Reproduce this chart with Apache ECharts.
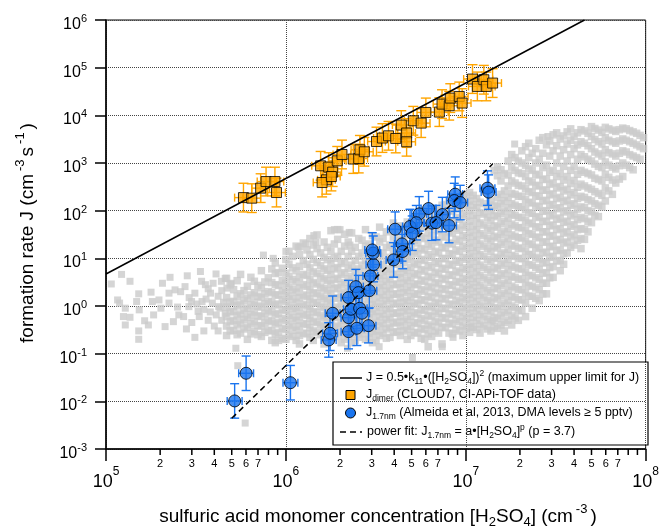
<!DOCTYPE html>
<html><head><meta charset="utf-8">
<script src="https://cdn.jsdelivr.net/npm/echarts@6/dist/echarts.min.js"></script>
<style>html,body{margin:0;padding:0;background:#fff}#c{width:662px;height:529px}</style>
</head><body><div id="c"></div>
<script>
const FONT = '"Liberation Sans", Arial, Helvetica, sans-serif';

// ---- J_dimer (CLOUD7, CI-APi-TOF) ----
const dimerX = [5.81e5,6.46e5,7.24e5,7.76e5,8.69e5,8.87e5,1.56e6,1.68e6,1.59e6,1.73e6,1.82e6,1.93e6,2.05e6,2.37e6,2.54e6,2.58e6,2.73e6,3.19e6,3.44e6,3.72e6,4.08e6,4.38e6,4.69e6,4.69e6,5.11e6,5.65e6,6.00e6,7.13e6,7.38e6,8.09e6,8.20e6,9.20e6,9.55e6,1.09e7,1.16e7,1.26e7,1.30e7,1.41e7,1.79e6];
const dimerY = [188,183,297,408,408,240,873,444,389,821,644,1110,1510,1210,1240,1890,1720,2820,3340,3720,3270,6250,4250,2790,7690,6870,11500,11700,17200,15900,23000,24900,18100,57700,40400,55800,40400,47500,520];
const dimerErrX = 1.12, dimerErrY = 2.0;

// ---- J_1.7nm (Almeida et al 2013) ----
const j17X = [5.19e5,6.01e5,1.06e6,1.73e6,1.76e6,1.82e6,2.23e6,2.23e6,2.30e6,2.23e6,2.48e6,2.57e6,2.65e6,2.88e6,2.45e6,2.53e6,2.91e6,2.95e6,3.07e6,3.06e6,3.02e6,3.97e6,4.42e6,4.46e6,4.05e6,4.90e6,5.04e6,5.51e6,6.21e6,6.48e6,7.41e6,8.07e6,8.74e6,8.63e6,9.31e6,1.32e7,1.34e7,6.83e6,5.31e6];
const j17Y = [0.0102,0.0388,0.0246,0.194,0.268,0.705,0.290,0.570,0.855,1.50,0.341,0.897,0.705,0.387,2.55,1.91,2.10,4.27,7.39,12.8,15.0,9.27,20.1,13.9,40.9,46.5,33.7,85.7,111,54.7,82.8,48.8,222,163,148,297,245,56.2,55.9];
const j17ErrX = 1.1, j17ErrY = 2.3;

// ---- lines ----
const upperLimitLine = [[1e5, 4.7], [4.57e7, 1e6]];
const powerFitLine = [[5.0e5, 4.4e-3], [1.41e7, 950]];

// ---- grey background data: sparse points ----
const greySparse = [[1.07e5,2.9],[1.22e5,4.6],[1.36e5,3.3],[1.16e5,1.34],[1.19e5,1.15],[1.28e5,0.9],[1.25e5,0.6],[1.28e5,0.4],[1.36e5,0.58],[1.48e5,1.24],[1.53e5,0.83],[1.52e5,1.8],[1.52e5,0.3],[1.52e5,0.2],[1.64e5,0.49],[1.72e5,0.4],[1.78e5,1.95],[1.81e5,1.24],[1.84e5,0.65],[1.97e5,1.34],[2.06e5,3.0],[2.02e5,0.9],[2.13e5,0.37],[2.24e5,1.86],[2.27e5,4.0],[2.24e5,1.15],[2.42e5,2.18],[2.37e5,0.47],[2.54e5,0.65],[2.6e5,2.0],[2.75e5,2.55],[2.83e5,4.3],[2.89e5,0.97],[2.99e5,1.24],[3.12e5,1.86],[3.12e5,0.22],[3.25e5,0.77],[3.35e5,5.3],[3.4e5,3.3],[3.42e5,1.24],[3.57e5,2.8],[3.81e5,1.86],[3.94e5,3.0],[4.09e5,4.7],[4.23e5,0.97],[4.38e5,3.3],[4.6e5,3.8],[4.7e5,2.37],[4.97e5,3.0],[5.27e5,0.13],[5.4e5,0.056],[5.94e5,0.0035],
[2.5e5,0.95],[2.7e5,0.6],[2.9e5,1.5],[3.0e5,0.45],[3.2e5,1.1],[3.3e5,0.6],[3.5e5,0.85],[3.6e5,1.4],[3.7e5,0.5],[3.8e5,0.75],[3.9e5,1.15],[4.0e5,0.38],[4.1e5,0.65],[4.2e5,1.6],[4.3e5,0.9],[4.4e5,0.5],[4.5e5,1.2],[4.6e5,0.7],[4.4e5,2.1],[3.7e5,2.3],[4.2e5,0.3],[3.5e5,0.3],[2.8e5,0.33],
[1.17e6,17],[1.29e6,20],[1.43e6,30],[1.47e6,22],[1.86e6,40],[2.0e6,40],[2.25e6,35],[2.27e6,19],[7.5e5,11.7],[8.5e5,10],[1.0e6,14],[1.2e6,17.5],
[5.05e6,0.083],[7.4e6,0.14],[8.5e6,0.22],[1.07e7,0.36],[1.42e7,0.5],[2.2e6,0.13],[3.3e6,0.14],[1.87e7,2500],[2.86e7,3600]];

// ---- grey background data: dense band, column x with its y values (set A) ----
const greyColumns = [
 [4.68e5,[3.8,1.5,0.95,0.6,0.38,0.24]],
 [5.12e5,[2.2,1.25,0.78,0.5,0.31]],
 [5.6e5,[4.6,1.8,1.1,0.68,0.44,0.27]],
 [6.11e5,[2.6,1.45,0.9,0.58,0.36,0.2]],
 [6.68e5,[3.3,1.9,1.2,0.75,0.47,0.29]],
 [7.31e5,[5.5,2.4,1.5,0.95,0.6,0.38,0.23]],
 [7.98e5,[3.9,2.0,1.25,0.8,0.5,0.31]],
 [8.73e5,[8,4.8,2.8,1.7,1.05,0.66,0.42,0.26,0.17]],
 [9.55e5,[6.2,3.4,2.1,1.35,0.85,0.54,0.34,0.21]],
 [1.04e6,[14,7.5,4.2,2.5,1.6,1.0,0.64,0.4,0.25]],
 [1.14e6,[18,5.5,3.2,1.95,1.2,0.78,0.5,0.31,0.19]],
 [1.25e6,[21,9,4.6,2.8,1.7,1.08,0.68,0.43,0.27]],
 [1.36e6,[26,12,6.3,3.6,2.2,1.4,0.88,0.56,0.35,0.22]],
 [1.49e6,[31,16,8.2,4.8,2.9,1.8,1.15,0.72,0.45,0.28]],
 [1.63e6,[22,10.5,6.0,3.7,2.3,1.45,0.92,0.58,0.37,0.23,0.16]],
 [1.78e6,[38,14,7.8,4.6,2.9,1.8,1.15,0.73,0.46,0.29,0.19]],
 [1.94e6,[40,25,11,6.4,3.8,2.4,1.5,0.95,0.6,0.38,0.24]],
 [2.12e6,[32,18,8.5,5.0,3.1,1.95,1.25,0.78,0.5,0.32,0.2]],
 [2.32e6,[34,14,7.2,4.2,2.6,1.65,1.05,0.66,0.42,0.26,0.17]],
 [2.54e6,[26,11,6.0,3.6,2.25,1.4,0.88,0.56,0.35,0.22]],
 [2.77e6,[40,18,9,5.2,3.2,2.0,1.25,0.78,0.5,0.31,0.2]],
 [3.03e6,[30,14,7.5,4.4,2.7,1.7,1.08,0.68,0.43,0.27,0.17]],
 [3.32e6,[45,22,11,6.3,3.8,2.4,1.5,0.95,0.6,0.38,0.24]],
 [3.62e6,[36,17,9,5.3,3.3,2.05,1.3,0.82,0.52,0.33,0.21]],
 [3.96e6,[55,28,14,7.6,4.6,2.8,1.75,1.1,0.7,0.44,0.28]],
 [4.33e6,[48,30,18,10.5,6.2,3.9,2.4,1.5,0.95,0.6,0.38,0.24]],
 [4.73e6,[58,32,17,9.5,5.6,3.4,2.1,1.3,0.82,0.52,0.33,0.2]],
 [5.18e6,[62,40,24,14,8,4.8,2.9,1.8,1.15,0.72,0.45,0.28]],
 [5.65e6,[78,48,28,16,9.5,5.8,3.5,2.2,1.35,0.85,0.54,0.34,0.21]],
 [6.18e6,[95,58,34,20,12,7,4.2,2.6,1.6,1.0,0.64,0.4,0.26,0.14]],
 [6.76e6,[105,68,40,24,14,8.5,5.1,3.1,1.95,1.2,0.78,0.48,0.3]],
 [7.38e6,[130,80,50,29,17,10,6.2,3.8,2.3,1.45,0.9,0.57,0.36,0.16]],
 [8.07e6,[165,100,60,36,21,12.5,7.5,4.5,2.8,1.75,1.1,0.7,0.44,0.27]],
 [8.82e6,[190,120,72,43,25,15,9,5.4,3.3,2.05,1.3,0.82,0.52,0.32]],
 [9.64e6,[215,140,85,50,30,18,10.5,6.3,3.8,2.4,1.5,0.95,0.6,0.38,0.24]],
 [1.05e7,[240,160,100,60,35,21,12.5,7.5,4.5,2.8,1.75,1.1,0.7,0.44,0.28]],
 [1.15e7,[180,115,68,40,24,14.5,8.7,5.2,3.2,2.0,1.25,0.8,0.5,0.32]],
 [1.26e7,[140,85,50,30,18,11,6.5,3.9,2.4,1.5,0.95,0.6,0.38]],
 [1.38e7,[160,100,62,38,23,14,8.5,5.1,3.1,1.9,1.2,0.75,0.47,0.3]],
 [1.50e7,[830,540,190,120,75,45,27,16.5,10,6,3.7,2.3,1.4,0.88,0.55,0.34]],
 [1.64e7,[600,260,160,98,60,36,22,13,8,4.8,3,1.85,1.15,0.72,0.45,0.3]],
 [1.80e7,[1500,820,420,230,140,85,52,31,19,11.5,7,4.2,2.6,1.6,1.0,0.62,0.4]],
 [1.96e7,[1100,620,340,200,120,72,44,27,16,9.8,6,3.6,2.2,1.35,0.8,0.5]],
 [2.15e7,[2200,900,520,290,170,105,62,38,23,14,8.4,5.1,3.1,1.9,1.15,0.6]],
 [2.34e7,[1600,700,400,240,145,88,53,32,19.5,12,7.2,4.3,2.6,1.6,0.9]],
 [2.56e7,[3000,1200,560,330,200,120,72,44,27,16,9.7,5.9,3.6,2.2,1.3]],
 [2.81e7,[2400,900,460,270,165,100,60,36,22,13.5,8.2,5,3.0,1.8]],
 [3.06e7,[3900,1800,700,380,225,135,82,50,30,18,11,6.7,4]],
 [3.35e7,[3200,1400,600,320,190,115,70,42,25,15,9,5.5]],
 [3.66e7,[4500,2500,1100,520,280,165,100,60,36,22,13]],
 [4.0e7,[3600,2000,850,430,240,140,85,51,31,19]],
 [4.37e7,[5000,2800,1500,700,360,200,120,72,42,26,16]],
 [4.78e7,[4200,2300,1200,600,300,170,100,60,36]],
 [5.22e7,[5300,3100,1700,950,480,250,140,80]],
 [5.71e7,[4400,2500,1400,800,420,210,120]],
 [6.24e7,[5200,3000,1650,900,500,260]],
 [6.82e7,[4600,2600,1400,750,380]],
 [7.46e7,[5400,3200,1800,1000,520]],
 [8.15e7,[4800,2800,1500,800]],
 [8.91e7,[4200,2400,1300]],
 [9.73e7,[3400,2000]]
];

// ---- grey background data: dense band, second set of columns (set B) ----
const greyColumnsB = [
 [4.9e5,[2.8,1.2,0.75,0.47,0.3]],
 [5.36e5,[3.4,1.6,1.0,0.62,0.4,0.25]],
 [5.85e5,[2.1,1.3,0.82,0.52,0.33]],
 [6.39e5,[4.0,1.7,1.05,0.66,0.42,0.26]],
 [6.99e5,[2.7,1.6,1.0,0.62,0.39,0.25]],
 [7.64e5,[3.2,1.8,1.12,0.7,0.44,0.28]],
 [8.35e5,[6,3.1,1.9,1.2,0.75,0.47,0.3,0.19]],
 [9.1e5,[5.0,2.7,1.7,1.1,0.7,0.45,0.28,0.19]],
 [1.0e6,[9.5,4.9,3.0,1.9,1.25,0.8,0.5,0.32,0.2]],
 [1.09e6,[11,6.3,3.6,2.2,1.4,0.9,0.56,0.36,0.23]],
 [1.19e6,[12,6.8,4.0,2.4,1.5,0.95,0.6,0.38,0.24,0.16]],
 [1.31e6,[15,7.5,4.4,2.6,1.6,1.0,0.64,0.41,0.26]],
 [1.42e6,[19,9.5,5.2,3.1,1.9,1.2,0.76,0.48,0.3,0.19]],
 [1.56e6,[13,7.0,4.1,2.5,1.6,1.0,0.63,0.4,0.25]],
 [1.70e6,[17,9.4,5.6,3.4,2.1,1.3,0.85,0.54,0.34,0.21]],
 [1.86e6,[20,10,6.0,3.6,2.3,1.45,0.9,0.57,0.36,0.23]],
 [2.03e6,[14,7.8,4.6,2.8,1.75,1.1,0.7,0.44,0.28,0.17]],
 [2.22e6,[22,11,6.2,3.7,2.3,1.45,0.92,0.58,0.37,0.23]],
 [2.43e6,[17,9,5.3,3.2,2.0,1.25,0.8,0.5,0.31,0.19]],
 [2.65e6,[24,13,7.2,4.3,2.7,1.7,1.05,0.66,0.42,0.26]],
 [2.90e6,[20,10.5,6.0,3.6,2.25,1.4,0.88,0.56,0.35,0.22]],
 [3.17e6,[28,15,8.5,5.0,3.1,1.95,1.2,0.77,0.48,0.3,0.19]],
 [3.47e6,[26,13,7.3,4.4,2.7,1.7,1.08,0.68,0.43,0.27]],
 [3.79e6,[38,19,10.5,6.0,3.7,2.3,1.45,0.9,0.57,0.36,0.22]],
 [4.14e6,[42,23,13,7.6,4.6,2.9,1.8,1.15,0.72,0.46,0.29]],
 [4.53e6,[45,25,14,8.2,4.9,3.0,1.9,1.2,0.75,0.47,0.3]],
 [4.95e6,[50,31,19,11,6.5,4.0,2.5,1.55,0.98,0.61,0.38,0.24]],
 [5.41e6,[62,37,21,12.5,7.4,4.5,2.8,1.75,1.1,0.68,0.43,0.27]],
 [5.91e6,[75,45,26,15,9,5.4,3.3,2.05,1.3,0.8,0.5,0.32,0.2]],
 [6.46e6,[88,52,30,18,10.5,6.4,3.9,2.4,1.5,0.95,0.6,0.37,0.23]],
 [7.06e6,[110,65,38,22,13,7.8,4.7,2.9,1.8,1.12,0.7,0.44,0.27]],
 [7.72e6,[135,82,48,28,16.5,9.8,5.9,3.6,2.2,1.4,0.88,0.55,0.35]],
 [8.43e6,[160,98,58,34,20,12,7.2,4.4,2.7,1.7,1.05,0.66,0.42,0.26]],
 [9.22e6,[175,110,66,39,23,14,8.3,5.0,3.1,1.9,1.2,0.75,0.47,0.3]],
 [1.01e7,[200,125,76,45,27,16,9.6,5.8,3.5,2.2,1.38,0.86,0.54,0.34]],
 [1.10e7,[210,130,80,48,29,17,10.5,6.3,3.8,2.4,1.5,0.92,0.58,0.36]],
 [1.20e7,[150,92,55,33,20,12,7.2,4.4,2.7,1.7,1.05,0.66,0.42,0.27]],
 [1.32e7,[120,72,43,26,16,9.5,5.8,3.5,2.1,1.3,0.82,0.52,0.33]],
 [1.44e7,[700,130,80,48,29,17.5,10.5,6.4,3.9,2.4,1.5,0.93,0.58,0.37]],
 [1.57e7,[720,420,220,140,88,53,32,19.5,12,7.2,4.4,2.7,1.65,1.0,0.63,0.4]],
 [1.72e7,[1100,560,330,190,115,70,42,26,15.5,9.5,5.8,3.5,2.1,1.3,0.8,0.5]],
 [1.88e7,[1300,700,380,220,130,80,48,29,18,11,6.5,4.0,2.4,1.5,0.92,0.56]],
 [2.05e7,[1800,1000,600,330,200,120,72,44,27,16.5,10,6,3.7,2.2,1.35,0.8]],
 [2.24e7,[2600,1300,750,420,250,150,90,55,33,20,12,7.3,4.4,2.7,1.6]],
 [2.45e7,[2000,1000,580,340,205,125,75,46,28,17,10.5,6.4,3.9,2.4,1.45]],
 [2.68e7,[3400,1600,800,450,270,160,97,59,36,22,13,8,4.9,3.0,1.8]],
 [2.93e7,[2900,1400,640,360,215,130,78,48,29,17.5,10.5,6.4,3.9]],
 [3.20e7,[4300,2300,1000,520,300,180,110,66,40,24,14.5,8.8]],
 [3.50e7,[3700,1900,850,440,260,155,94,57,34,21,12.5,7.5]],
 [3.83e7,[5200,3000,1500,700,370,215,130,78,47,28,17]],
 [4.18e7,[4300,2400,1200,580,310,180,108,65,40,24]],
 [4.57e7,[4700,2600,1350,640,330,190,115,68,41,25]],
 [5.00e7,[5800,3600,2000,1100,560,280,160,95,56]],
 [5.46e7,[4900,2800,1550,850,450,230,130,75]],
 [5.97e7,[5600,3400,1900,1050,580,300,160]],
 [6.53e7,[4900,2800,1550,820,440,220]],
 [7.14e7,[5000,2900,1600,880,460]],
 [7.80e7,[5200,3000,1700,900]],
 [8.52e7,[4500,2600,1400,720]],
 [9.31e7,[3800,2200,1200]]
];

// ---- axis tick labels ----
const xDecades = [1e5, 1e6, 1e7];
const xMinorMultipliers = [2,3,4,5,6,7,8,9];
const xMinorLabels = ['2','3','4','5','6','7','',''];

// ---------- build ----------
const greyDense = [];
greyColumns.concat(greyColumnsB).forEach(function(c){ c[1].forEach(function(y){ greyDense.push([c[0], y]); }); });

function errData(xs, ys, fx, fy){
  return xs.map(function(x,i){ return [x, ys[i], x/fx, x*fx, ys[i]/fy, ys[i]*fy]; });
}
function errRender(color, capV, capH){
  return function(params, api){
    const x = api.value(0), y = api.value(1);
    const c = api.coord([x,y]);
    const yl = api.coord([x, api.value(4)])[1], yh = api.coord([x, api.value(5)])[1];
    const xl = api.coord([api.value(2), y])[0], xh = api.coord([api.value(3), y])[0];
    const st = {stroke: color, lineWidth: 1.4, fill: null};
    return {type:'group', children:[
      {type:'line', shape:{x1:c[0],y1:yl,x2:c[0],y2:yh}, style:st},
      {type:'line', shape:{x1:c[0]-capV,y1:yl,x2:c[0]+capV,y2:yl}, style:st},
      {type:'line', shape:{x1:c[0]-capV,y1:yh,x2:c[0]+capV,y2:yh}, style:st},
      {type:'line', shape:{x1:xl,y1:c[1],x2:xh,y2:c[1]}, style:st},
      {type:'line', shape:{x1:xl,y1:c[1]-capH,x2:xl,y2:c[1]+capH}, style:st},
      {type:'line', shape:{x1:xh,y1:c[1]-capH,x2:xh,y2:c[1]+capH}, style:st}
    ]};
  };
}

const minorData = [];
const minorLabelIdx = [];
xDecades.forEach(function(d){ xMinorMultipliers.forEach(function(m, k){ minorData.push([d*m, 1e-3]); minorLabelIdx.push(k); }); });

const ORANGE = '#ffa500', BLUE = '#1a74ee', GREY = '#cbcbcb';

const yLabelRich = {
  b: {fontSize: 16, fontFamily: FONT, color:'#000', lineHeight: 16, padding:[9,0,0,0]},
  s: {fontSize: 11, fontFamily: FONT, color:'#000', lineHeight: 11, padding:[0,0,2,0]}
};
const xLabelRich = {
  b: {fontSize: 18, fontFamily: FONT, color:'#000', lineHeight: 18, padding:[10,0,0,0]},
  s: {fontSize: 12, fontFamily: FONT, color:'#000', lineHeight: 12, padding:[0,0,10,0]}
};
function expFmt(v){ return '{b|10}{s|' + Math.round(Math.log10(v)) + '}'; }

const legRich = {
  t: {fontSize: 12.5, fontFamily: FONT, color:'#000', lineHeight: 14},
  sub: {fontSize: 8.5, fontFamily: FONT, color:'#000', lineHeight: 9, padding:[7,0,0,0]},
  sup: {fontSize: 8.5, fontFamily: FONT, color:'#000', lineHeight: 9, padding:[0,0,9,0]}
};
const titleRich = {
  t: {fontSize: 19, fontFamily: FONT, color:'#000', lineHeight: 22},
  sub: {fontSize: 13, fontFamily: FONT, color:'#000', lineHeight: 13, padding:[10,0,0,0]},
  sup: {fontSize: 13, fontFamily: FONT, color:'#000', lineHeight: 13, padding:[0,3,16,3]}
};

const chart = echarts.init(document.getElementById('c'), null, {renderer:'canvas'});
chart.setOption({
  animation: false,
  backgroundColor: '#fff',
  grid: {left: 106, top: 20, width: 544, height: 429, show: true, borderColor: '#000', borderWidth: 1, backgroundColor: 'transparent'},
  xAxis: {
    type: 'log', logBase: 10, min: 1e5, max: 1e8, interval: 1,
    axisLine: {show: true, lineStyle: {color:'#000', width: 1.5}},
    axisTick: {show: true, inside: false, length: 12, lineStyle: {color:'#000', width: 1.5}},
    axisLabel: {formatter: expFmt, rich: xLabelRich, margin: 19, showMinLabel: true, showMaxLabel: true},
    splitLine: {show: true, lineStyle: {color:'#444', type:'dotted', width: 1}},
    minorTick: {show: false}
  },
  yAxis: {
    type: 'log', logBase: 10, min: 1e-3, max: 1e6, interval: 1,
    axisLine: {show: true, lineStyle: {color:'#000', width: 1.5}},
    axisTick: {show: true, inside: false, length: 11, lineStyle: {color:'#000', width: 1.5}},
    axisLabel: {formatter: expFmt, rich: yLabelRich, margin: 19, showMinLabel: true, showMaxLabel: true},
    splitLine: {show: true, lineStyle: {color:'#444', type:'dotted', width: 1}}
  },
  series: [
    {type:'scatter', data: greySparse, symbol:'rect', symbolSize: 7, itemStyle:{color: GREY}, silent: true, z: 1},
    {type:'scatter', data: greyDense, symbol:'rect', symbolSize: 7.5, itemStyle:{color: GREY}, silent: true, z: 1},
    {type:'custom', data: errData(dimerX, dimerY, dimerErrX, dimerErrY), renderItem: errRender(ORANGE, 5, 4), encode:{x:0,y:1}, z: 2, silent: true},
    {type:'scatter', data: dimerX.map(function(x,i){return [x, dimerY[i]];}), symbol:'rect', symbolSize: 10, itemStyle:{color: ORANGE, borderColor:'#000', borderWidth: 1}, z: 3},
    {type:'custom', data: errData(j17X, j17Y, j17ErrX, j17ErrY), renderItem: errRender(BLUE, 4.5, 4), encode:{x:0,y:1}, z: 4, silent: true},
    {type:'scatter', data: j17X.map(function(x,i){return [x, j17Y[i]];}), symbol:'circle', symbolSize: 12, itemStyle:{color: BLUE, borderColor:'#000', borderWidth: 1}, z: 5},
    {type:'line', data: upperLimitLine, symbol:'none', showSymbol:false, lineStyle:{color:'#000', width:1.5}, z: 6, clip: true},
    {type:'line', data: powerFitLine, symbol:'none', showSymbol:false, lineStyle:{color:'#000', width:1.5, type:[6,4]}, z: 6, clip: true},
    {type:'custom', data: minorData, encode:{x:0,y:1}, clip: false, silent: true, z: 7,
      renderItem: function(params, api){
        const p = api.coord([api.value(0), api.value(1)]);
        const lab = xMinorLabels[minorLabelIdx[params.dataIndex]];
        return {type:'group', children:[
          {type:'line', shape:{x1:p[0],y1:p[1],x2:p[0],y2:p[1]+6}, style:{stroke:'#000', lineWidth:1.5}},
          {type:'text', x: p[0], y: p[1]+15, style:{text: lab, fontSize: 11, fontFamily: FONT, fill:'#000', align:'center', verticalAlign:'middle'}}
        ]};
      }}
  ],
  graphic: [
    {type:'text', x: 28, y: 233, rotation: Math.PI/2, z: 10,
      style:{text:'{t|formation rate J (cm}{sup|-3}{t|s}{sup|-1}{t|)}', rich: titleRich, align:'center', verticalAlign:'middle'}},
    {type:'text', x: 378, y: 517, z: 10,
      style:{text:'{t|sulfuric acid monomer concentration [H}{sub|2}{t|SO}{sub|4}{t|] (cm}{sup|-3}{t|)}', rich: titleRich, align:'center', verticalAlign:'middle'}},
    {type:'group', z: 20, children:[
      {type:'rect', shape:{x:333, y:362, width:315, height:83}, style:{fill:'#fff', stroke:'#000', lineWidth:1.2}},
      {type:'line', shape:{x1:340, y1:378, x2:362, y2:378}, style:{stroke:'#000', lineWidth:1.5}},
      {type:'rect', shape:{x:346, y:390.5, width:9, height:9}, style:{fill:ORANGE, stroke:'#000', lineWidth:1}},
      {type:'circle', shape:{cx:350.5, cy:413, r:5}, style:{fill:BLUE, stroke:'#000', lineWidth:1}},
      {type:'line', shape:{x1:340, y1:432, x2:362, y2:432}, style:{stroke:'#000', lineWidth:1.5, lineDash:[6,4]}},
      {type:'text', x:366, y:378, style:{text:'{t|J = 0.5•k}{sub|11}{t|•([H}{sub|2}{t|SO}{sub|4}{t|])}{sup|2}{t| (maximum upper limit for J)}', rich: legRich, align:'left', verticalAlign:'middle'}},
      {type:'text', x:366, y:395, style:{text:'{t|J}{sub|dimer}{t| (CLOUD7, CI-APi-TOF data)}', rich: legRich, align:'left', verticalAlign:'middle'}},
      {type:'text', x:366, y:413, style:{text:'{t|J}{sub|1.7nm}{t| (Almeida et al, 2013, DMA levels ≥ 5 pptv)}', rich: legRich, align:'left', verticalAlign:'middle'}},
      {type:'text', x:367, y:432, style:{text:'{t|power fit: J}{sub|1.7nm}{t| = a•[H}{sub|2}{t|SO}{sub|4}{t|]}{sup|p}{t| (p = 3.7)}', rich: legRich, align:'left', verticalAlign:'middle'}}
    ]}
  ]
});
</script>
</body></html>
